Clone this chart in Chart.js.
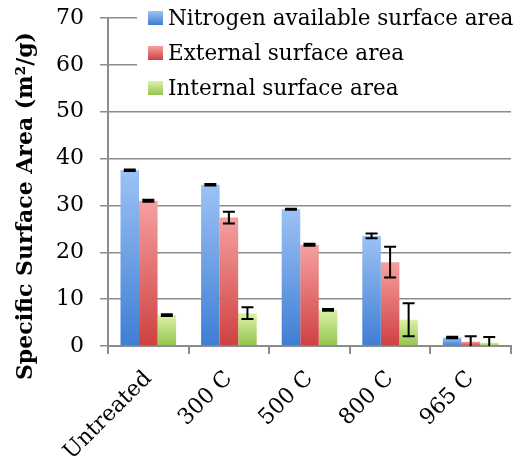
<!DOCTYPE html>
<html>
<head>
<meta charset="utf-8">
<script src="https://cdn.jsdelivr.net/npm/chart.js@4/dist/chart.umd.min.js"></script>
<style>
  html, body { margin: 0; padding: 0; background: #ffffff; }
  #wrap { width: 524px; height: 465px; }
</style>
</head>
<body>
<div id="wrap"><canvas id="chart" width="524" height="465"></canvas></div>
<script>
// Sample treatments
const categories = ['Untreated', '300 C', '500 C', '800 C', '965 C'];

// Specific surface area, m²/g
const nitrogenArea = [37.5, 34.4, 29.2, 23.5, 1.8];
const externalArea = [31.0, 27.4, 21.6, 17.9, 0.9];
const internalArea = [6.6, 7.0, 7.7, 5.6, 0.7];

// Error bar half-widths, m²/g
const nitrogenErr = [0.15, 0.15, 0.1, 0.5, 0.15];
const externalErr = [0.2, 1.25, 0.2, 3.3, 1.2];
const internalErr = [0.2, 1.25, 0.2, 3.5, 1.2];

const seriesNames = ['Nitrogen available surface area', 'External surface area', 'Internal surface area'];
const yMin = 0, yMax = 70, yStep = 10;

const FONT = '"DejaVu Serif", "Liberation Serif", serif';
const GRID = '#8c8c8c';

// light-top / dark-bottom shading for each series
const shades = [
  ['#9cc2f4', '#3f7ed4'],
  ['#f6a0a0', '#cf4040'],
  ['#dcf2a6', '#92c450']
];

function barGradient(ctx, idx) {
  const chart = ctx.chart;
  const area = chart.chartArea;
  if (!area || ctx.type !== 'data') return shades[idx][1];
  const y = chart.scales.y;
  const top = y.getPixelForValue(ctx.raw);
  const bottom = y.getPixelForValue(0);
  if (!isFinite(top) || bottom - top < 1) return shades[idx][0];
  const g = chart.ctx.createLinearGradient(0, top, 0, bottom);
  g.addColorStop(0, shades[idx][0]);
  g.addColorStop(1, shades[idx][1]);
  return g;
}

const errors = [nitrogenErr, externalErr, internalErr];

const errorBarPlugin = {
  id: 'errorBars',
  afterDatasetsDraw(chart) {
    const ctx = chart.ctx;
    const y = chart.scales.y;
    const a = chart.chartArea;
    ctx.save();
    ctx.beginPath();
    ctx.rect(a.left, a.top, a.right - a.left, a.bottom - a.top);
    ctx.clip();
    ctx.strokeStyle = '#000';
    ctx.lineWidth = 2;
    chart.data.datasets.forEach((ds, di) => {
      const meta = chart.getDatasetMeta(di);
      meta.data.forEach((bar, i) => {
        const v = ds.data[i], e = errors[di][i];
        const hi = y.getPixelForValue(v + e);
        const lo = y.getPixelForValue(v - e);
        const x = bar.x, cap = 6;
        ctx.beginPath();
        ctx.moveTo(x, hi); ctx.lineTo(x, lo);
        ctx.moveTo(x - cap, hi); ctx.lineTo(x + cap, hi);
        ctx.moveTo(x - cap, lo); ctx.lineTo(x + cap, lo);
        ctx.stroke();
      });
    });
    ctx.restore();
  }
};

const overlayPlugin = {
  id: 'overlay',
  afterDraw(chart) {
    const ctx = chart.ctx;
    ctx.save();
    // legend box
    ctx.fillStyle = '#ffffff';
    ctx.fillRect(137, 0, chart.width - 137, 101);
    ctx.font = '21.5px ' + FONT;
    ctx.textBaseline = 'middle';
    ctx.textAlign = 'left';
    seriesNames.forEach((name, i) => {
      const cy = 18 + i * 35;
      const g = ctx.createLinearGradient(0, cy - 7, 0, cy + 7);
      g.addColorStop(0, shades[i][0]);
      g.addColorStop(1, shades[i][1]);
      ctx.fillStyle = g;
      ctx.fillRect(148, cy - 7, 15, 14);
      ctx.fillStyle = '#000';
      ctx.fillText(name, 168, cy + 1);
    });
    // y axis title
    ctx.translate(26, 206);
    ctx.rotate(-Math.PI / 2);
    ctx.textAlign = 'center';
    ctx.font = 'bold 22px ' + FONT;
    ctx.fillText('Specific Surface Area (m²/g)', 0, 0);
    ctx.restore();
  }
};

new Chart(document.getElementById('chart'), {
  type: 'bar',
  data: {
    labels: categories,
    datasets: [nitrogenArea, externalArea, internalArea].map((vals, i) => ({
      label: seriesNames[i],
      data: vals,
      backgroundColor: (c) => barGradient(c, i),
      borderWidth: 0,
      barPercentage: 1.0,
      categoryPercentage: 0.69
    }))
  },
  options: {
    responsive: false,
    animation: false,
    devicePixelRatio: 1,
    layout: { padding: { top: 18, right: 13, left: 0, bottom: 0 } },
    plugins: { legend: { display: false }, tooltip: { enabled: false } },
    scales: {
      x: {
        afterFit(s) { s.height = 119; },
        grid: { offset: true, drawOnChartArea: false, tickLength: 8, color: GRID, lineWidth: 2 },
        border: { color: GRID, width: 2 },
        ticks: { color: '#000', font: { family: FONT, size: 22 }, minRotation: 45, maxRotation: 45, padding: 12 }
      },
      y: {
        min: yMin, max: yMax,
        afterFit(s) { s.width = 108; s.paddingTop = 0; s.paddingBottom = 0; },
        grid: { color: GRID, lineWidth: 1.5, tickLength: 8 },
        border: { color: GRID, width: 2 },
        ticks: { stepSize: yStep, color: '#000', font: { family: FONT, size: 22 }, padding: 16 }
      }
    }
  },
  plugins: [errorBarPlugin, overlayPlugin]
});
</script>
</body>
</html>
